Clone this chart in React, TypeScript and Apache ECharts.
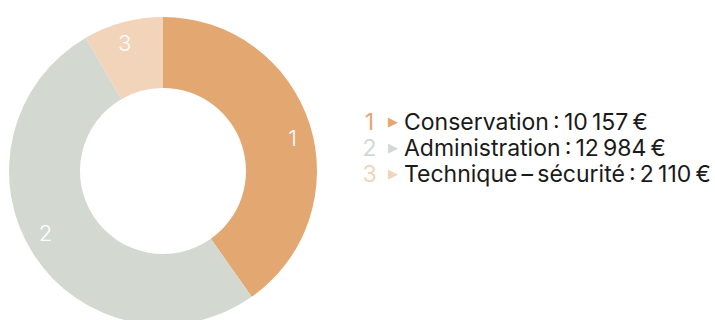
import React, { useEffect, useRef } from "react";
import * as echarts from "echarts";

const categories = ["Conservation", "Administration", "Technique\u202F–\u202Fsécurité"];
const numbers = ["1", "2", "3"];
const values = [10157, 12984, 2110];
const valueLabels = ["10\u202F157\u202F€", "12\u202F984\u202F€", "2\u202F110\u202F€"];
const colors = ["#E3A772", "#D3D9D1", "#F2D4BA"];
const labelOffsets = [[0, 8], [-3, -11], [-3, 3]];

export default function App() {
  const ref = useRef<HTMLDivElement>(null);
  useEffect(() => {
    document.body.style.margin = "0";
    const chart = echarts.init(ref.current!, null, { renderer: "svg" });
    const data = categories.map((c, i) => ({
      name: c,
      value: values[i],
      itemStyle: { color: colors[i] },
    }));
    const rich: any = {
      t: { fontSize: 23, color: "#1a1a1a", fontFamily: "Inter" },
    };
    colors.forEach((c, i) => {
      rich["n" + i] = { fontSize: 23, color: c, fontFamily: "Inter", width: 15, align: "right" };
      rich["a" + i] = { fontSize: 13, color: c, fontFamily: "DejaVu Sans", padding: [0, 6, 0, 11] };
    });
    chart.setOption({
      animation: false,
      legend: {
        orient: "vertical",
        left: 352,
        top: 105,
        icon: "none",
        itemWidth: 0,
        itemHeight: 0,
        itemGap: 3,
        selectedMode: false,
        textStyle: { rich, lineHeight: 23 },
        formatter: (name: string) => {
          const i = categories.indexOf(name);
          return `{n${i}|${numbers[i]}}{a${i}|▶}{t|${name}\u202F:\u2009${valueLabels[i]}}`;
        },
        data: categories,
      },
      series: [
        {
          type: "pie",
          center: [163, 171],
          radius: [83, 154],
          startAngle: 90,
          clockwise: true,
          silent: true,
          label: { show: false },
          labelLine: { show: false },
          data,
        },
        {
          type: "pie",
          center: [163, 171],
          radius: [112, 154],
          startAngle: 90,
          clockwise: true,
          silent: true,
          itemStyle: { color: "rgba(0,0,0,0)" },
          label: {
            show: true,
            position: "inside",
            color: "#ffffff",
            fontSize: 22,
            fontFamily: "Inter",
            fontWeight: 300,
            formatter: (p: any) => numbers[p.dataIndex],
          },
          labelLine: { show: false },
          data: categories.map((c, i) => ({
            name: c + " ",
            value: values[i],
            label: { offset: labelOffsets[i] },
          })),
        },
      ],
    });
    return () => chart.dispose();
  }, []);
  return <div ref={ref} style={{ width: 715, height: 320 }} />;
}
